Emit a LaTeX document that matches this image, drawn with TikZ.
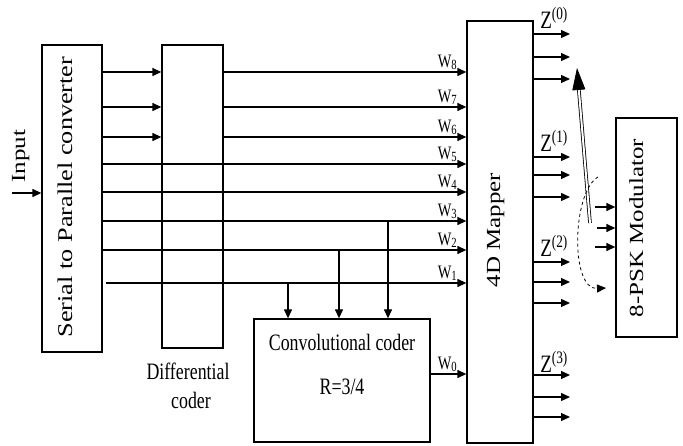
\documentclass[tikz,border=0pt]{standalone}
\usepackage{fontspec}
\setmainfont{Liberation Serif}[FakeStretch=0.76]
\newfontfamily\tall{Liberation Serif}[FakeStretch=1.25, NFSSFamily=lsertall]
\newcommand{\wl}[1]{W\raisebox{-2pt}{\fontsize{14}{14}\selectfont #1}}
\usetikzlibrary{arrows.meta}

\begin{document}
\begin{tikzpicture}[x=1pt,y=-1pt]
\tikzset{blok/.style={draw, line width=1.3pt, inner sep=0pt},
  fl/.style={line width=1.3pt, -{Triangle[length=9pt,width=8pt]}},
  txt/.style={font=\fontsize{23.5}{23.5}\selectfont, inner sep=0pt},
  vtxt/.style={font=\tall\fontsize{20}{20}\selectfont, inner sep=0pt, rotate=90, anchor=base},
  wlab/.style={font=\fontsize{19}{19}\selectfont, inner sep=2pt, anchor=south east, xshift=-7pt},
  zlab/.style={font=\fontsize{25}{25}\selectfont, inner sep=0pt, anchor=base west, xshift=6pt, yshift=5pt}}
\useasboundingbox (0,0) rectangle (683,446);
\node[blok, minimum width=60pt, minimum height=307pt] (SP) at (72,198.5) {};
\node[blok, minimum width=61pt, minimum height=303pt] (DC) at (192.5,196.5) {};
\node[blok, minimum width=66pt, minimum height=422pt] (MAP) at (500,232) {};
\node[blok, minimum width=176pt, minimum height=123pt] (CC) at (342,380.5) {};
\node[blok, minimum width=61pt, minimum height=219pt] (MOD) at (646.5,227.5) {};
\node[vtxt, font=\tall\fontsize{21}{21}\selectfont] (SPt) at (72,197) {Serial to Parallel converter};
\node[vtxt] (MAPt) at (500,230) {4D Mapper};
\node[vtxt] (MODt) at (643,228) {8-PSK Modulator};
\node[vtxt] (IN) at (25,156) {Input};
\node[txt, anchor=base] (DCt1) at (188,380) {Differential};
\node[txt, anchor=base] (DCt2) at (191,408) {coder};
\node[txt, anchor=base] (CCt1) at ([yshift=-32pt]CC.north) {Convolutional coder};
\node[txt, anchor=base] (CCt2) at ([yshift=-76pt]CC.north) {R=3/4};
\coordinate (in) at (12,193);
\coordinate (r8) at (0,72);
\coordinate (r7) at (0,107);
\coordinate (r6) at (0,137);
\coordinate (r5) at (0,164);
\coordinate (r4) at (0,192);
\coordinate (r3) at (388,221);
\coordinate (r2) at (339,250);
\coordinate (r1) at (288,283);
\coordinate (r0) at (0,374);
\draw[fl] (in) -- (in -| SP.west);
\draw[fl] (r8 -| SP.east) -- (r8 -| DC.west);
\draw[fl] (r7 -| SP.east) -- (r7 -| DC.west);
\draw[fl] (r6 -| SP.east) -- (r6 -| DC.west);
\draw[fl] (r8 -| DC.east) -- (r8 -| MAP.west) node[wlab] (W8) {\wl{8}};
\draw[fl] (r7 -| DC.east) -- (r7 -| MAP.west) node[wlab] (W7) {\wl{7}};
\draw[fl] (r6 -| DC.east) -- (r6 -| MAP.west) node[wlab] (W6) {\wl{6}};
\draw[fl] (r5 -| SP.east) -- (r5 -| MAP.west) node[wlab] (W5) {\wl{5}};
\draw[fl] (r4 -| SP.east) -- (r4 -| MAP.west) node[wlab] (W4) {\wl{4}};
\draw[fl] (r3 -| SP.east) -- (r3 -| MAP.west) node[wlab] (W3) {\wl{3}};
\draw[fl] (r2 -| SP.east) -- (r2 -| MAP.west) node[wlab] (W2) {\wl{2}};
\draw[fl] ([xshift=3pt]r1 -| SP.east) -- (r1 -| MAP.west) node[wlab] (W1) {\wl{1}};
\draw[fl] (r3) -- (r3 |- CC.north);
\draw[fl] (r2) -- (r2 |- CC.north);
\draw[fl] (r1) -- (r1 |- CC.north);
\draw[fl] (r0 -| CC.east) -- (r0 -| MAP.west) node[wlab] (W0) {\wl{0}};
\coordinate (z01) at (570,34);
\coordinate (z02) at (570,57);
\coordinate (z03) at (570,79);
\coordinate (z11) at (570,157);
\coordinate (z12) at (570,175);
\coordinate (z13) at (570,197);
\coordinate (z21) at (570,262);
\coordinate (z22) at (570,282);
\coordinate (z23) at (570,303);
\coordinate (z31) at (570,375);
\coordinate (z32) at (570,397);
\coordinate (z33) at (570,417);
\draw[fl] (z01 -| MAP.east) node[zlab] (Z0) {Z\textsuperscript{(0)}} -- (z01);
\draw[fl] (z02 -| MAP.east) -- (z02);
\draw[fl] (z03 -| MAP.east) -- (z03);
\draw[fl] (z11 -| MAP.east) node[zlab] (Z1) {Z\textsuperscript{(1)}} -- (z11);
\draw[fl] (z12 -| MAP.east) -- (z12);
\draw[fl] (z13 -| MAP.east) -- (z13);
\draw[fl] (z21 -| MAP.east) node[zlab] (Z2) {Z\textsuperscript{(2)}} -- (z21);
\draw[fl] (z22 -| MAP.east) -- (z22);
\draw[fl] (z23 -| MAP.east) -- (z23);
\draw[fl] (z31 -| MAP.east) node[zlab, yshift=-3pt] (Z3) {Z\textsuperscript{(3)}} -- (z31);
\draw[fl] (z32 -| MAP.east) -- (z32);
\draw[fl] (z33 -| MAP.east) -- (z33);
\coordinate (m1) at (595,207);
\coordinate (m2) at (597,228);
\coordinate (m3) at (595,247);
\draw[fl] (m1) -- (m1 -| MOD.west);
\draw[fl] (m2) -- (m2 -| MOD.west);
\draw[fl] (m3) -- (m3 -| MOD.west);
\coordinate (dbA) at (590,223);
\coordinate (dbB) at (577,68);
\draw[double, line width=0.8pt, double distance=2pt, -{Triangle[length=22pt,width=13pt]}] (dbA) -- (dbB);
\coordinate (cvA) at (598,177);
\coordinate (cvB) at (606,288);
\draw[dashed, line width=0.8pt, -{Triangle[length=9pt,width=8pt]}] (cvA) .. controls (572,192) and (570,290) .. (cvB);
\end{tikzpicture}
\end{document}
